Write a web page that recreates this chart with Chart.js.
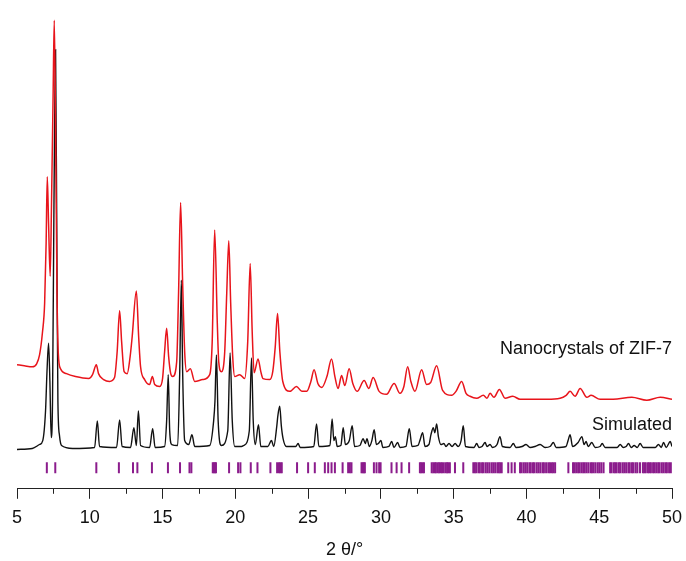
<!DOCTYPE html>
<html>
<head>
<meta charset="utf-8">
<script src="https://cdn.jsdelivr.net/npm/chart.js@4.4.1/dist/chart.umd.min.js"></script>
<style>
    html, body { margin: 0; padding: 0; background: #fff; }
    #wrap { width: 686px; height: 561px; }
</style>
</head>
<body>
<div id="wrap"><canvas id="xrd"></canvas></div>
<script>
// 2 theta positions and intensities (red)
const nanoX = [5.0, 5.5, 6.05, 6.35, 6.55, 6.75, 6.9, 7.0, 7.08, 7.17, 7.28, 7.37, 7.48, 7.56, 7.65, 7.75, 7.84, 7.99,
    8.4, 9.02, 9.92, 10.19, 10.45, 10.6, 10.95, 11.36, 11.7, 11.88, 12.05, 12.19, 12.36, 12.57, 12.77, 12.91, 13.2,
    13.36, 13.49, 13.77, 14.11, 14.3, 14.46, 14.8, 15.0, 15.14, 15.28, 15.42, 15.56, 15.7, 15.97, 16.1, 16.24, 16.38,
    16.52, 16.66, 16.91, 17.21, 17.76, 18.24, 18.41, 18.58, 18.76, 18.86, 19.04, 19.27, 19.41, 19.55, 19.68, 19.82,
    19.96, 20.3, 20.64, 20.85, 21.02, 21.16, 21.29, 21.56, 21.75, 21.9, 22.37, 22.57, 22.74, 22.9, 23.06, 23.26,
    23.74, 24.2, 24.57, 24.91, 25.19, 25.41, 25.67, 25.94, 26.29, 26.61, 26.84, 27.06, 27.3, 27.52, 27.82, 28.07,
    28.37, 28.85, 29.17, 29.47, 29.88, 30.39, 30.91, 31.31, 31.58, 31.84, 32.06, 32.34, 32.8, 33.14, 33.42, 33.83,
    34.24, 34.86, 35.16, 35.55, 35.85, 36.12, 36.58, 37.04, 37.29, 37.5, 37.77, 38.14, 38.53, 39.06, 39.56, 40.45,
    41.42, 42.31, 42.73, 43.0, 43.34, 43.69, 44.15, 44.44, 45.06, 45.96, 47.24, 48.27, 49.19, 50.0];
const nanoY = [126, 125, 124, 127, 136, 159, 189, 249, 317, 269, 216, 289, 399, 476, 369, 199, 137, 122,
    117, 114, 112, 116, 126, 117, 111, 109, 113, 139, 181, 149, 119, 117, 134, 154, 201,
    154, 124, 111, 106, 114, 106, 104, 112, 139, 163, 134, 117, 114, 129, 199, 291, 209,
    139, 119, 122, 109, 111, 116, 149, 263, 169, 129, 119, 139, 199, 252, 189, 134,
    114, 116, 112, 149, 229, 159, 118, 132, 119, 112, 111, 119, 144, 178, 139, 109,
    99, 104, 99, 99, 109, 121, 107, 103, 114, 132, 114, 102, 115, 105, 122, 107,
    99, 110, 102, 113, 99, 96, 107, 97, 104, 124, 109, 99, 121, 106, 108, 125,
    100, 95, 99, 109, 97, 94, 92, 95, 92, 97, 93, 101, 92, 94, 91, 91,
    91, 92, 95, 99, 94, 102, 93, 95, 91, 91, 93, 90, 93, 91];

// simulated pattern (black)
const simX = [5.0, 6.05, 6.55, 6.77, 6.96, 7.06, 7.17, 7.26, 7.35, 7.44, 7.54, 7.65, 7.74, 7.81, 7.92, 8.06, 8.82,
    10.33, 10.52, 10.67, 11.84, 12.05, 12.22, 12.8, 13.03, 13.2, 13.34, 13.49, 14.11, 14.32, 14.49, 15.14, 15.28,
    15.39, 15.49, 15.63, 16.04, 16.18, 16.29, 16.38, 16.52, 16.8, 17.02, 17.21, 18.24, 18.51, 18.6, 18.7, 18.82,
    19.04, 19.48, 19.64, 19.79, 19.96, 20.42, 20.58, 20.96, 21.11, 21.23, 21.37, 21.59, 21.75, 22.23, 22.48, 22.64,
    22.85, 22.92, 23.05, 23.16, 23.28, 23.51, 24.15, 24.31, 24.46, 25.39, 25.58, 25.74, 26.5, 26.65, 26.77, 26.87,
    27.0, 27.25, 27.41, 27.56, 27.83, 28.03, 28.19, 28.56, 28.78, 28.93, 29.04, 29.21, 29.38, 29.54, 29.69, 29.83,
    30.0, 30.14, 30.55, 30.74, 30.9, 31.15, 31.31, 31.72, 31.95, 32.14, 32.55, 32.68, 32.87, 33.03, 33.3, 33.44,
    33.6, 33.71, 33.83, 33.95, 34.12, 34.33, 34.47, 34.68, 34.89, 35.1, 35.3, 35.51, 35.66, 35.81, 36.4, 36.58,
    36.74, 36.95, 37.16, 37.29, 37.5, 37.67, 37.98, 38.18, 38.35, 38.87, 39.1, 39.28, 39.7, 39.97, 40.25, 40.59,
    40.94, 41.28, 41.62, 41.85, 42.04, 42.72, 42.86, 43.0, 43.17, 43.55, 43.81, 43.96, 44.1, 44.24, 44.49, 44.72,
    45.06, 45.2, 45.41, 46.23, 46.44, 46.65, 46.85, 47.01, 47.2, 47.4, 47.61, 47.81, 48.02, 48.85, 49.07, 49.26,
    49.42, 49.6, 49.88, 50.0];
const simY = [40, 41, 45, 49, 79, 119, 148, 109, 52, 89, 289, 446, 239, 89, 54, 44, 41,
    42, 69, 43, 42, 70, 43, 42, 62, 44, 79, 44, 42, 61, 42, 43, 69,
    116, 59, 45, 44, 119, 212, 119, 49, 45, 55, 43, 44, 69, 89, 136, 69,
    44, 59, 138, 69, 43, 43, 44, 59, 133, 69, 45, 65, 43, 43, 49, 43,
    64, 74, 84, 64, 51, 43, 43, 46, 42, 43, 66, 43, 44, 71, 49, 53,
    43, 44, 62, 45, 49, 64, 43, 44, 51, 46, 51, 43, 49, 60, 45, 46,
    49, 42, 43, 48, 42, 47, 42, 43, 61, 43, 44, 49, 57, 43, 45, 55,
    62, 57, 66, 53, 45, 46, 43, 46, 43, 46, 43, 49, 64, 43, 42, 46,
    42, 43, 47, 43, 45, 42, 45, 53, 43, 42, 46, 42, 43, 45, 42, 43,
    45, 42, 43, 47, 42, 43, 49, 55, 43, 47, 53, 45, 48, 43, 47, 42,
    43, 46, 42, 42, 45, 42, 43, 46, 42, 44, 42, 46, 42, 42, 45, 42,
    47, 42, 48, 43];

// calculated reflection positions (purple ticks)
const reflections = [7.05, 7.63, 10.45, 12.0, 12.97, 13.27, 14.27, 15.37, 16.2, 16.85, 16.98, 18.45, 18.52, 18.6, 18.67,
    19.57, 20.19, 20.35, 21.06, 21.52, 22.41, 22.87, 23.0, 23.1, 23.19, 24.24, 25.0, 25.46, 26.15, 26.38, 26.61, 26.84,
    27.37, 27.75, 27.87, 27.98, 28.67, 28.75, 28.83, 28.9, 29.52, 29.7, 29.88, 29.98, 30.73, 31.08, 31.42, 31.94,
    32.68, 32.77, 32.86, 32.96, 33.49, 33.6, 33.7, 33.78, 33.9, 34.0, 34.1, 34.2, 34.32, 34.45, 34.55, 34.63, 34.74,
    35.09, 35.66, 36.35, 36.45, 36.55, 36.7, 36.8, 36.95, 37.05, 37.2, 37.32, 37.45, 37.6, 37.72, 37.85, 38.0, 38.1,
    38.2, 38.3, 38.75, 38.98, 39.2, 39.56, 39.66, 39.8, 39.92, 40.05, 40.2, 40.3, 40.45, 40.55, 40.7, 40.82, 40.95,
    41.1, 41.2, 41.35, 41.5, 41.62, 41.75, 41.85, 41.97, 42.88, 43.2, 43.3, 43.42, 43.55, 43.65, 43.78, 43.9, 44.0,
    44.12, 44.25, 44.4, 44.5, 44.62, 44.75, 44.9, 45.02, 45.15, 45.3, 45.75, 45.85, 46.0, 46.1, 46.2, 46.35, 46.45,
    46.6, 46.72, 46.85, 47.0, 47.1, 47.25, 47.35, 47.5, 47.62, 47.8, 48.0, 48.1, 48.2, 48.35, 48.45, 48.55, 48.7,
    48.8, 48.92, 49.05, 49.15, 49.3, 49.42, 49.55, 49.65, 49.8, 49.92];
const reflectionLevel = 21.5;

const minorTicks = [7.5, 12.5, 17.5, 22.5, 27.5, 32.5, 37.5, 42.5, 47.5];

// curve labels: text, anchor x (right edge), baseline y
const curveLabels = [
    { text: 'Nanocrystals of ZIF-7', x: 50, y: 137 },
    { text: 'Simulated', x: 50, y: 60 }
];

const FONT = "'Liberation Sans', Arial, sans-serif";

function toPoints(xs, ys) {
    return xs.map((x, i) => ({ x: x, y: ys[i] }));
}

// Draws the short minor ticks and the curve names
const extrasPlugin = {
    id: 'extras',
    afterDraw(chart) {
        const ctx = chart.ctx;
        const xs = chart.scales.x;
        const ys = chart.scales.y;
        const base = chart.chartArea.bottom;
        ctx.save();
        ctx.strokeStyle = '#222';
        ctx.lineWidth = 1;
        minorTicks.forEach(t => {
            const px = Math.round(xs.getPixelForValue(t)) + 0.5;
            ctx.beginPath();
            ctx.moveTo(px, base);
            ctx.lineTo(px, base + 5);
            ctx.stroke();
        });
        ctx.fillStyle = '#111';
        ctx.font = '18px ' + FONT;
        ctx.textAlign = 'right';
        ctx.textBaseline = 'alphabetic';
        curveLabels.forEach(l => {
            ctx.fillText(l.text, xs.getPixelForValue(l.x), ys.getPixelForValue(l.y));
        });
        ctx.restore();
    }
};

new Chart(document.getElementById('xrd'), {
    type: 'line',
    data: {
        datasets: [
            {
                label: 'Nanocrystals of ZIF-7',
                data: toPoints(nanoX, nanoY),
                borderColor: '#e8141b',
                borderWidth: 1.5,
                pointRadius: 0,
                cubicInterpolationMode: 'monotone'
            },
            {
                label: 'Simulated',
                data: toPoints(simX, simY),
                borderColor: '#111111',
                borderWidth: 1.4,
                pointRadius: 0,
                cubicInterpolationMode: 'monotone'
            },
            {
                label: 'Reflections',
                data: reflections.map(x => ({ x: x, y: reflectionLevel })),
                showLine: false,
                pointStyle: 'line',
                rotation: 90,
                pointRadius: 5.5,
                borderWidth: 2,
                borderColor: '#8b1c8c',
                backgroundColor: '#8b1c8c'
            }
        ]
    },
    options: {
        responsive: true,
        maintainAspectRatio: false,
        animation: false,
        events: [],
        layout: { padding: { left: 17, right: 14, top: 0, bottom: 0 } },
        plugins: {
            legend: { display: false },
            tooltip: { enabled: false }
        },
        scales: {
            x: {
                type: 'linear',
                min: 5,
                max: 50,
                afterFit(scale) {
                    // edge labels fit inside the layout padding already
                    scale.paddingLeft = 0;
                    scale.paddingRight = 0;
                },
                ticks: {
                    stepSize: 5,
                    color: '#111',
                    padding: 8,
                    font: { family: FONT, size: 18 }
                },
                grid: {
                    drawOnChartArea: false,
                    drawTicks: true,
                    tickLength: 10,
                    color: '#222'
                },
                border: { display: true, color: '#222', width: 1 },
                title: {
                    display: true,
                    text: '2 θ/°',
                    color: '#111',
                    font: { family: FONT, size: 18 },
                    padding: { top: 3, bottom: 0 }
                }
            },
            y: {
                display: false,
                min: 0,
                max: 489
            }
        }
    },
    plugins: [extrasPlugin]
});
</script>
</body>
</html>
